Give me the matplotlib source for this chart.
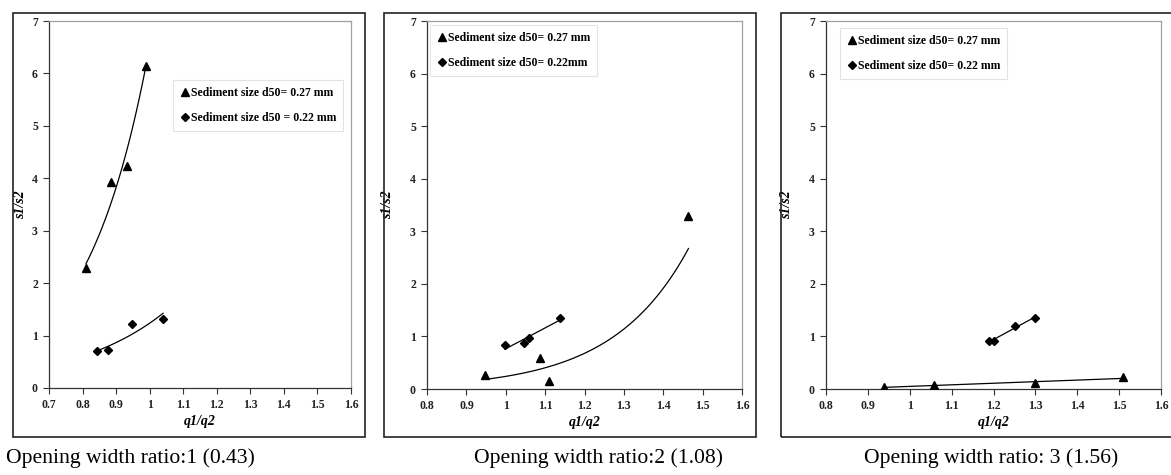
import numpy as np
import matplotlib
matplotlib.use("Agg")
import matplotlib.pyplot as plt
from matplotlib.patches import Rectangle
from matplotlib.lines import Line2D

# ---------------- data ----------------
labels = ["Sediment size d50= 0.27 mm", "Sediment size d50 = 0.22 mm"]
labels2 = ["Sediment size d50= 0.27 mm", "Sediment size d50= 0.22mm"]
labels3 = ["Sediment size d50= 0.27 mm", "Sediment size d50= 0.22 mm"]
captions = ["Opening width ratio:1 (0.43)", "Opening width ratio:2 (1.08)",
            "Opening width ratio: 3 (1.56)"]

# panel 1
p1_tri_x = [0.81, 0.886, 0.931, 0.989]
p1_tri_y = [2.28, 3.93, 4.23, 6.15]
p1_dia_x = [0.842, 0.876, 0.948, 1.040]
p1_dia_y = [0.70, 0.73, 1.22, 1.32]
# panel 2
p2_tri_x = [0.947, 1.088, 1.110, 1.464]
p2_tri_y = [0.27, 0.59, 0.15, 3.29]
p2_dia_x = [0.998, 1.047, 1.060, 1.139]
p2_dia_y = [0.83, 0.87, 0.97, 1.36]
# panel 3
p3_tri_x = [0.939, 1.059, 1.299, 1.509]
p3_tri_y = [0.04, 0.07, 0.11, 0.22]
p3_dia_x = [1.189, 1.202, 1.251, 1.300]
p3_dia_y = [0.905, 0.92, 1.19, 1.36]

xlims = [(0.7, 1.6), (0.8, 1.6), (0.8, 1.6)]
xticks = [np.round(np.arange(0.7, 1.61, 0.1), 1), np.round(np.arange(0.8, 1.61, 0.1), 1),
          np.round(np.arange(0.8, 1.61, 0.1), 1)]
yticks = list(range(0, 8))

W, H = 1171, 475
fig = plt.figure(figsize=(W / 100, H / 100), dpi=100)
fig.patch.set_facecolor("white")

SERIF = ["Liberation Serif", "DejaVu Serif"]


def px_axes(l, r, t, b):
    return [l / W, 1 - b / H, (r - l) / W, (b - t) / H]


axes_px = [(49, 351, 21, 388), (427, 742, 21, 389), (826, 1161, 21, 389)]
boxes_px = [(13, 365, 13, 437), (384, 756, 13, 437), (781, 1175, 13, 437)]
legend_anchor = [(0.411, 0.839), (0.0095, 0.989), (0.042, 0.981)]
ylabel_x = [27, 394, 793]
caption_x = [130, 599, 991]

data = [
    (p1_tri_x, p1_tri_y, "exp", p1_dia_x, p1_dia_y, "exp", labels),
    (p2_tri_x, p2_tri_y, "exp", p2_dia_x, p2_dia_y, "lin", labels2),
    (p3_tri_x, p3_tri_y, "lin", p3_dia_x, p3_dia_y, "lin", labels3),
]


def trend(x, y, kind):
    x = np.asarray(x)
    y = np.asarray(y)
    xs = np.linspace(x.min(), x.max(), 100)
    if kind == "exp":
        b, a = np.polyfit(x, np.log(y), 1)
        return xs, np.exp(a + b * xs)
    m, c = np.polyfit(x, y, 1)
    return xs, m * xs + c


for i, (tx, ty, tk, dx, dy, dk, labs) in enumerate(data):
    # outer frame
    l, r, t, b = boxes_px[i]
    fig.patches.append(Rectangle((l / W, 1 - b / H), (r - l) / W, (b - t) / H,
                                 transform=fig.transFigure, fill=False,
                                 edgecolor="#222222", linewidth=1.2, zorder=0))
    ax = fig.add_axes(px_axes(*axes_px[i]))
    ax.set_facecolor("white")
    ax.plot(tx, ty, linestyle="none", marker="^", color="black", markersize=6, zorder=3)
    ax.plot(dx, dy, linestyle="none", marker="D", color="black", markersize=4.5, zorder=3)
    xs, ys = trend(tx, ty, tk)
    ax.plot(xs, ys, color="black", linewidth=0.9, zorder=2)
    xs, ys = trend(dx, dy, dk)
    ax.plot(xs, ys, color="black", linewidth=0.9, zorder=2)

    ax.set_xlim(*xlims[i])
    ax.set_ylim(0, 7)
    ax.set_xticks(xticks[i])
    ax.set_xticklabels([("%g" % v) for v in xticks[i]])
    ax.set_yticks(yticks)
    for lab in ax.get_xticklabels() + ax.get_yticklabels():
        lab.set_fontfamily(SERIF)
        lab.set_fontweight("bold")
        lab.set_fontsize(8.5)
        lab.set_color("#222222")
    ax.tick_params(direction="out", length=4, width=0.8, color="#333333", pad=4)
    ax.spines["left"].set_color("#333333")
    ax.spines["bottom"].set_color("#333333")
    ax.spines["top"].set_color("#a0a0a0")
    ax.spines["right"].set_color("#a0a0a0")
    for s in ax.spines.values():
        s.set_linewidth(0.9)

    ax.set_xlabel("q1/q2", family=SERIF, fontweight="bold", style="italic",
                  fontsize=10, labelpad=3)
    ax.set_ylabel("s1/s2", family=SERIF, fontweight="bold", style="italic",
                  fontsize=10)
    ax.yaxis.set_label_coords((ylabel_x[i] - axes_px[i][0]) / (axes_px[i][1] - axes_px[i][0]),
                              0.5)

    handles = [Line2D([], [], linestyle="none", marker="^", color="black", markersize=5.5),
               Line2D([], [], linestyle="none", marker="D", color="black", markersize=4)]
    leg = ax.legend(handles, labs, loc="upper left", bbox_to_anchor=legend_anchor[i],
                    borderaxespad=0, frameon=True, fancybox=False,
                    prop={"family": SERIF, "weight": "bold", "size": 8.5},
                    handlelength=0.8, handletextpad=0.1, labelspacing=1.1,
                    borderpad=0.6)
    leg.get_frame().set_edgecolor("#dddddd")
    leg.get_frame().set_linewidth(0.8)

    fig.text(caption_x[i] / W, 1 - 458 / H, captions[i], family=SERIF,
             fontsize=15.6, ha="center", va="center", color="black")

fig.savefig("out.png", dpi=100, facecolor="white")
